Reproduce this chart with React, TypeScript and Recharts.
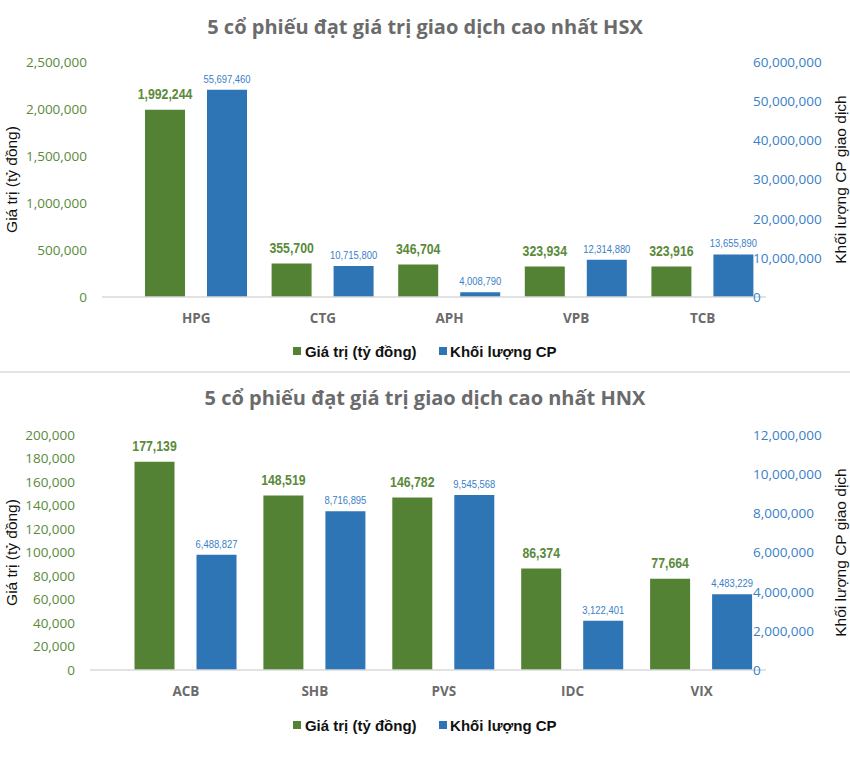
import React from 'react';
import { ComposedChart, Bar, Line, XAxis, YAxis, LabelList } from 'recharts';

// ---- HSX data ----
const hsxCodes = ['HPG', 'CTG', 'APH', 'VPB', 'TCB'];
const hsxValue = [1992244, 355700, 346704, 323934, 323916];
const hsxVolume = [55697460, 10715800, 4008790, 12314880, 13655890];
const hsxValueTicks = [0, 500000, 1000000, 1500000, 2000000, 2500000];
const hsxVolumeTicks = [0, 10000000, 20000000, 30000000, 40000000, 50000000, 60000000];

// ---- HNX data ----
const hnxCodes = ['ACB', 'SHB', 'PVS', 'IDC', 'VIX'];
const hnxValue = [177139, 148519, 146782, 86374, 77664];
const hnxVolume = [6488827, 8716895, 9545568, 3122401, 4483229];
const hnxValueTicks = [0, 20000, 40000, 60000, 80000, 100000, 120000, 140000, 160000, 180000, 200000];
const hnxVolumeTicks = [0, 2000000, 4000000, 6000000, 8000000, 10000000, 12000000];

const seriesNames = ['Giá trị (tỷ đồng)', 'Khối lượng CP'];
const leftTitle = 'Giá trị (tỷ đồng)';
const rightTitle = 'Khối lượng CP giao dịch';

const GREEN = '#548235';
const BLUE = '#2E75B6';
const GREEN_TXT = '#5a8a3a';
const BLUE_TXT = '#3a80c8';
const GRAY = '#6b6b6b';
const fmt = (v: number) => Number(v).toLocaleString('en-US');

type PanelProps = {
  title: string;
  codes: string[];
  values: number[];
  volumes: number[];
  valueTicks: number[];
  volumeTicks: number[];
  volumeBarDomain: [number, number];
  top: number;
  height: number;
  plotTop: number;
  plotBottom: number;
  plotLeft: number;
  padLeft: number;
  titleY: number;
  legendY: number;
};

const PLOT_RIGHT = 766;

function Panel(p: PanelProps) {
  const data = p.codes.map((c, i) => ({ code: c, value: p.values[i], volume: p.volumes[i] }));
  const plotH = p.plotBottom - p.plotTop;
  const midY = p.plotTop + plotH / 2;
  return (
    <div style={{ position: 'absolute', left: 0, top: p.top, width: 850, height: p.height }}>
      <div
        style={{
          position: 'absolute', left: 0, width: 850, top: p.titleY - 14, height: 28, lineHeight: '28px',
          textAlign: 'center', fontFamily: '"Open Sans", sans-serif', fontWeight: 700, fontSize: 20, color: GRAY,
        }}
      >
        {p.title}
      </div>
      <div style={{ position: 'absolute', left: 0, top: 0 }}>
        <ComposedChart
          width={850}
          height={p.height}
          data={data}
          margin={{ top: p.plotTop, right: 0, left: 0, bottom: 0 }}
          barGap={22}
        >
          <XAxis
            dataKey="code"
            height={p.height - p.plotBottom}
            padding={{ left: p.padLeft, right: 0 }}
            tickLine={false}
            tickSize={0}
            tickMargin={16}
            axisLine={{ stroke: '#d9d9d9', strokeWidth: 1.5 }}
            tick={{ fill: GRAY, fontSize: 13.5, fontWeight: 700, fontFamily: '"Open Sans", sans-serif' }}
            interval={0}
          />
          <YAxis
            yAxisId="value"
            orientation="left"
            width={p.plotLeft}
            domain={[0, p.valueTicks[p.valueTicks.length - 1]]}
            ticks={p.valueTicks}
            tickFormatter={fmt}
            axisLine={false}
            tickLine={false}
            tickSize={0}
            tickMargin={15}
            interval={0}
            tick={{ fill: GREEN_TXT, fontSize: 13.5, fontFamily: '"Open Sans", sans-serif' }}
            label={{
              content: () => (
                <text
                  x={11}
                  y={midY}
                  transform={`rotate(-90, 11, ${midY})`}
                  textAnchor="middle"
                  dominantBaseline="central"
                  fontFamily='"Liberation Sans", Arial, sans-serif'
                  fontSize={15.5}
                  fill="#111"
                >
                  {leftTitle}
                </text>
              ),
            }}
          />
          <YAxis
            yAxisId="volTicks"
            orientation="right"
            width={850 - PLOT_RIGHT}
            type="number"
            domain={[0, p.volumeTicks[p.volumeTicks.length - 1]]}
            ticks={p.volumeTicks}
            axisLine={false}
            tickLine={false}
            tickSize={0}
            tickMargin={0}
            interval={0}
            tick={(t: any) => (
              <text
                x={PLOT_RIGHT - 13}
                y={t.y}
                dy="0.36em"
                textAnchor="start"
                fill={BLUE_TXT}
                fontSize={13.5}
                fontFamily='"Open Sans", sans-serif'
              >
                {fmt(t.payload.value)}
              </text>
            )}
            label={{
              content: () => (
                <text
                  x={840}
                  y={midY}
                  transform={`rotate(-90, 840, ${midY})`}
                  textAnchor="middle"
                  dominantBaseline="central"
                  fontFamily='"Liberation Sans", Arial, sans-serif'
                  fontSize={15.5}
                  fill="#111"
                >
                  {rightTitle}
                </text>
              ),
            }}
          />
          <YAxis
            yAxisId="vol"
            orientation="right"
            hide
            type="number"
            allowDataOverflow
            domain={p.volumeBarDomain}
          />
          <Bar dataKey="value" yAxisId="value" fill={GREEN} barSize={40} isAnimationActive={false}>
            <LabelList
              dataKey="value"
              content={(l: any) => (
                <text
                  transform={`translate(${l.x + l.width / 2}, ${l.y - 10.5}) scale(0.82, 1)`}
                  x={0}
                  y={0}
                  textAnchor="middle"
                  fill={GREEN_TXT}
                  fontWeight={700}
                  fontSize={15}
                  fontFamily='"Liberation Sans", Arial, sans-serif'
                >
                  {fmt(l.value)}
                </text>
              )}
            />
          </Bar>
          <Bar dataKey="volume" yAxisId="vol" fill={BLUE} barSize={40} isAnimationActive={false}>
            <LabelList
              dataKey="volume"
              content={(l: any) => (
                <text
                  transform={`translate(${l.x + l.width / 2}, ${l.y - 7}) scale(0.82, 1)`}
                  x={0}
                  y={0}
                  textAnchor="middle"
                  fill={BLUE_TXT}
                  fontSize={11.5}
                  fontFamily='"Liberation Sans", Arial, sans-serif'
                >
                  {fmt(l.value)}
                </text>
              )}
            />
          </Bar>
          <Line
            dataKey="volume"
            yAxisId="volTicks"
            stroke="transparent"
            strokeOpacity={0}
            dot={false}
            activeDot={false}
            legendType="none"
            isAnimationActive={false}
          />
        </ComposedChart>
      </div>
      <div
        style={{
          position: 'absolute', left: 0, width: 850, top: p.legendY - 10, height: 20,
          display: 'flex', justifyContent: 'center', alignItems: 'center',
          fontFamily: '"Liberation Sans", Arial, sans-serif', fontWeight: 700, fontSize: 15, color: '#111',
        }}
      >
        {[GREEN, BLUE].map((c, i) => (
          <div key={i} style={{ display: 'flex', alignItems: 'center', marginLeft: i === 0 ? 0 : 22 }}>
            <span style={{ display: 'inline-block', width: 8, height: 8, background: c, marginRight: 3.5 }} />
            <span>{seriesNames[i]}</span>
          </div>
        ))}
      </div>
    </div>
  );
}

export default function App() {
  return (
    <div style={{ position: 'absolute', left: 0, top: 0, width: 850, height: 772, background: '#fff', overflow: 'hidden' }}>
      <Panel
        title="5 cổ phiếu đạt giá trị giao dịch cao nhất HSX"
        codes={hsxCodes}
        values={hsxValue}
        volumes={hsxVolume}
        valueTicks={hsxValueTicks}
        volumeTicks={hsxVolumeTicks}
        volumeBarDomain={[2800000, 62800000]}
        top={0}
        height={371}
        plotTop={62}
        plotBottom={297}
        plotLeft={102}
        padLeft={31}
        titleY={27}
        legendY={351}
      />
      <div style={{ position: 'absolute', left: 0, top: 371, width: 850, height: 2, background: '#e3e3e3' }} />
      <Panel
        title="5 cổ phiếu đạt giá trị giao dịch cao nhất HNX"
        codes={hnxCodes}
        values={hnxValue}
        volumes={hnxVolume}
        valueTicks={hnxValueTicks}
        volumeTicks={hnxVolumeTicks}
        volumeBarDomain={[610000, 12610000]}
        top={373}
        height={399}
        plotTop={62}
        plotBottom={297}
        plotLeft={90}
        padLeft={31.5}
        titleY={25}
        legendY={352}
      />
    </div>
  );
}
